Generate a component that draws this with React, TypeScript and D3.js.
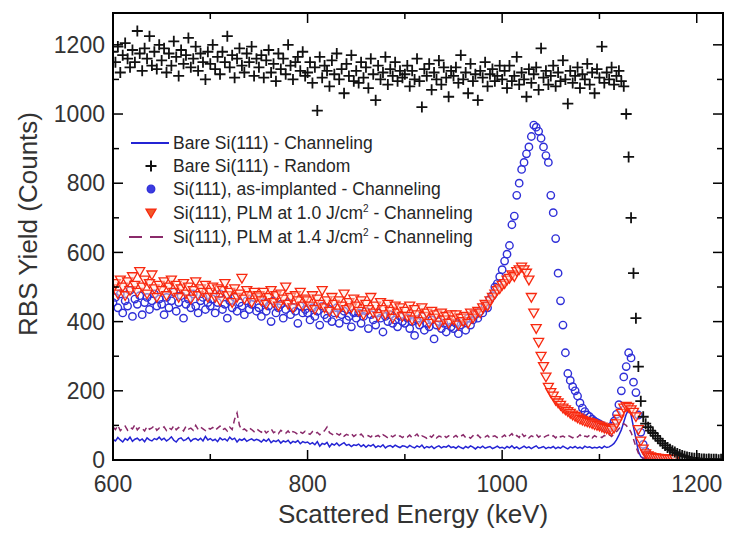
import React from "react";
import * as d3 from "d3";

// Channel calibration of the spectra (keV per channel)
const channelStartKeV = 600;
const keVPerChannel = 2.5;

// Bare Si(111) - Random (black crosses)
const bareRandom = [
  1180, 1150, 1195, 1120, 1170, 1205, 1160, 1135, 1185, 1150, 1240, 1175, 1125, 1190, 1160, 1225, 1140, 1180, 1130, 1200,
  1155, 1190, 1120, 1175, 1140, 1210, 1165, 1110, 1185, 1145, 1170, 1220, 1135, 1160, 1195, 1125, 1175, 1150, 1100, 1180,
  1145, 1200, 1130, 1165, 1115, 1180, 1150, 1225, 1135, 1170, 1105, 1160, 1190, 1140, 1120, 1175, 1150, 1195, 1110, 1160,
  1135, 1170, 1105, 1155, 1185, 1120, 1145, 1095, 1175, 1130, 1160, 1115, 1200, 1140, 1100, 1150, 1165, 1125, 1180, 1110,
  1120, 1150, 1090, 1135, 1010, 1165, 1105, 1140, 1125, 1080, 1155, 1115, 1175, 1100, 1130, 1060, 1145, 1110, 1170, 1095,
  1125, 1090, 1150, 1105, 1135, 1075, 1160, 1115, 1040, 1140, 1100, 1120, 1165, 1085, 1130, 1110, 1150, 1095, 1125, 1105,
  1115, 1140, 1080, 1125, 1100, 1160, 1095, 1020, 1130, 1110, 1145, 1070, 1120, 1100, 1155, 1085, 1135, 1105, 1050, 1125,
  1110, 1135, 1090, 1170, 1100, 1120, 1060, 1145, 1095, 1115, 1040, 1125, 1105, 1150, 1080, 1115, 1130, 1095, 1110, 1140,
  1100, 1125, 1075, 1140, 1095, 1110, 1165, 1085, 1120, 1100, 1050, 1130, 1090, 1115, 1135, 1070, 1190, 1105, 1125, 1085,
  1110, 1140, 1080, 1120, 1095, 1155, 1100, 1030, 1125, 1090, 1110, 1135, 1075, 1115, 1100, 1145, 1085, 1120, 1060, 1130,
  1105, 1195, 1090, 1120, 1100, 1135, 1085, 1110, 1125, 1095, 1080, 1000, 876, 700, 540, 410, 270, 170, 125, 105,
  95, 85, 78, 70, 62, 55, 48, 42, 36, 31, 27, 23, 19, 16, 13, 11, 9, 7, 6, 5,
  4, 4, 3, 3, 2, 3, 2, 2, 2, 1, 2,
];

// Bare Si(111) - Channeling (blue solid line)
const bareChanneling = [
  60, 55, 65, 58, 52, 62, 57, 66, 54, 60, 63, 56, 61, 53, 64, 58, 55, 62, 59, 66,
  58, 63, 55, 60, 67, 57, 52, 61, 64, 56, 59, 65, 54, 60, 62, 57, 63, 55, 68, 58,
  62, 56, 60, 53, 64, 58, 61, 55, 66, 59, 63, 52, 60, 57, 62, 54, 58, 61, 56, 60,
  57, 52, 59, 54, 61, 50, 56, 53, 58, 49, 55, 52, 57, 48, 54, 51, 56, 47, 53, 50,
  52, 46, 50, 44, 53, 40, 48, 45, 51, 38, 47, 43, 49, 41, 46, 50, 42, 45, 39, 44,
  42, 46, 39, 44, 37, 43, 40, 45, 36, 41, 38, 44, 35, 40, 42, 37, 43, 39, 36, 41,
  40, 36, 42, 38, 35, 41, 37, 43, 34, 39, 36, 40, 33, 38, 41, 35, 39, 37, 42, 36,
  38, 34, 40, 36, 33, 39, 35, 41, 37, 32, 38, 35, 40, 34, 37, 39, 33, 36, 40, 35,
  37, 33, 39, 35, 41, 34, 38, 32, 36, 40, 35, 38, 33, 37, 41, 34, 36, 39, 33, 37,
  35, 39, 33, 37, 34, 40, 36, 32, 38, 35, 39, 34, 37, 33, 40, 36, 38, 34, 37, 35,
  38, 34, 40, 36, 38, 42, 48, 58, 72, 87, 110, 132, 146, 130, 95, 62, 25, 10, 5, 3,
  2, 2, 1, 1, 1,
];

// Si(111), as-implanted - Channeling (blue open circles)
const asImplanted = [
  455, 470, 440, 480, 425, 460, 445, 490, 415, 465, 450, 475, 420, 455, 470, 435, 460, 480, 445, 465,
  450, 420, 470, 440, 460, 485, 430, 455, 475, 410, 450, 465, 440, 480, 445, 425, 460, 470, 435, 455,
  445, 465, 425, 455, 480, 435, 450, 410, 460, 440, 470, 430, 455, 445, 420, 460, 435, 450, 470, 430,
  440, 415, 455, 430, 445, 400, 460, 425, 440, 450, 410, 435, 455, 420, 440, 430, 395, 445, 425, 435,
  425, 405, 440, 415, 430, 390, 445, 420, 410, 435, 400, 425, 440, 395, 420, 430, 405, 415, 385, 425,
  410, 425, 395, 415, 430, 380, 420, 405, 390, 425, 410, 370, 415, 400, 420, 395, 405, 385, 415, 400,
  395, 410, 380, 400, 360, 405, 390, 415, 375, 395, 385, 405, 350, 390, 400, 380, 395, 370, 400, 385,
  380, 395, 365, 390, 400, 375, 410, 390, 405, 420, 410, 430, 425, 445, 440, 465, 475, 500, 510, 530,
  550, 575, 595, 620, 680, 705, 765, 800, 840, 860, 885, 905, 935, 968, 962, 950, 930, 905, 880, 860,
  765, 715, 640, 540, 460, 390, 310, 250, 230, 212, 200, 185, 165, 150, 140, 130, 125, 118, 112, 108,
  104, 100, 96, 92, 92, 98, 112, 132, 160, 200, 240, 270, 310, 295, 225, 195, 130, 80, 45, 25,
  15, 10, 6, 4, 3, 2, 2, 1, 1, 1,
];

// Si(111), PLM at 1.0 J/cm2 - Channeling (red open down-triangles)
const plm10 = [
  495, 510, 480, 520, 500, 475, 515, 490, 530, 505, 485, 545, 500, 520, 480, 510, 535, 495, 470, 505,
  490, 515, 475, 500, 520, 485, 505, 470, 495, 510, 480, 500, 465, 490, 515, 475, 495, 485, 505, 470,
  485, 500, 470, 495, 460, 490, 510, 475, 485, 455, 495, 470, 480, 525, 465, 490, 475, 455, 485, 470,
  475, 460, 485, 450, 470, 490, 455, 475, 445, 480, 465, 500, 450, 470, 440, 475, 460, 485, 445, 465,
  460, 445, 475, 435, 465, 450, 490, 440, 460, 430, 470, 450, 425, 460, 445, 480, 435, 455, 440, 465,
  445, 430, 460, 420, 450, 435, 470, 425, 445, 415, 455, 435, 420, 450, 430, 410, 445, 425, 440, 415,
  430, 415, 445, 405, 435, 420, 400, 440, 415, 425, 395, 430, 410, 420, 390, 425, 405, 415, 395, 420,
  405, 420, 390, 410, 400, 415, 395, 425, 410, 420, 430, 425, 440, 450, 445, 460, 470, 480, 490, 495,
  505, 510, 520, 525, 535, 530, 545, 550, 558, 550, 540, 520, 470, 425, 380, 340, 300, 270, 240, 210,
  195, 185, 172, 165, 158, 150, 145, 140, 135, 130, 126, 122, 118, 115, 112, 110, 108, 105, 102, 100,
  98, 95, 92, 90, 88, 86, 92, 105, 118, 135, 150, 155, 152, 145, 138, 125, 88, 55, 32, 18,
  12, 9, 7, 6, 5, 4, 4, 3, 3, 2, 2, 2,
];

// Si(111), PLM at 1.4 J/cm2 - Channeling (purple dashed line)
const plm14 = [
  95, 88, 100, 85, 92, 98, 86, 94, 90, 102, 87, 95, 91, 84, 97, 89, 93, 99, 86, 92,
  90, 96, 85, 93, 88, 99, 87, 94, 91, 84, 97, 89, 92, 86, 100, 88, 95, 90, 85, 93,
  89, 94, 86, 92, 98, 87, 91, 84, 95, 88, 118, 136, 100, 86, 90, 84, 93, 88, 82, 90,
  85, 80, 88, 78, 84, 90, 79, 83, 76, 86, 80, 77, 84, 75, 82, 79, 74, 81, 77, 83,
  78, 74, 82, 76, 80, 73, 77, 85, 95, 79, 75, 70, 76, 72, 78, 69, 74, 71, 76, 68,
  73, 69, 75, 67, 72, 70, 66, 74, 68, 71, 65, 73, 69, 64, 71, 67, 72, 66, 70, 65,
  70, 66, 72, 64, 69, 75, 65, 70, 67, 63, 71, 66, 74, 64, 69, 67, 72, 65, 70, 68,
  66, 71, 64, 69, 73, 65, 68, 63, 70, 66, 72, 64, 69, 67, 71, 63, 68, 70, 65, 69,
  67, 72, 64, 70, 76, 66, 71, 65, 78, 68, 73, 64, 70, 67, 74, 66, 71, 65, 69, 72,
  66, 70, 64, 72, 67, 69, 65, 71, 68, 64, 70, 66, 73, 65, 69, 67, 72, 64, 70, 66,
  69, 65, 71, 67, 73, 68, 76, 82, 90, 98, 105, 100, 92, 80, 60, 38, 20, 10, 5, 3,
  2, 1, 1, 1, 0,
];

const xMajorTicks = [600, 800, 1000, 1200];
const xMinorTicks = [700, 900, 1100];
const yMajorTicks = [0, 200, 400, 600, 800, 1000, 1200];
const yMinorTicks = [100, 300, 500, 700, 900, 1100];

const legendLabels = [
  "Bare Si(111) - Channeling",
  "Bare Si(111) - Random",
  "Si(111), as-implanted - Channeling",
  "Si(111), PLM at 1.0 J/cm",
  "Si(111), PLM at 1.4 J/cm",
];

const FONT = "'Liberation Sans', Arial, Helvetica, sans-serif";
const BLUE = "#2424d4";
const CIRCLE = "#2f2fd8";
const RED = "#f8280f";
const PURPLE = "#8a2a6a";

const W = 729;
const H = 536;
const L = 113, R = 723, T = 13, B = 460;

export default function App() {
  const x = d3.scaleLinear().domain([600, 1227]).range([L, R]);
  const y = d3.scaleLinear().domain([0, 1292]).range([B, T]);
  const toPts = (arr: number[]) => arr.map((v, i) => [channelStartKeV + i * keVPerChannel, v] as [number, number]);
  const line = d3.line<[number, number]>().x((d) => x(d[0])).y((d) => y(d[1]));

  const crossPath = "M-5.5,0H5.5M0,-5.5V5.5";
  const triPath = "M-5,-3.9L5,-3.9L0,4.8Z";

  const majorLen = 10, minorLen = 6;
  const legendY = [143, 166, 189, 213, 237];
  const legendTextX = 173;
  const legendMarkX = 151;

  return (
    <svg width={W} height={H} style={{ position: "absolute", left: 0, top: 0, background: "#fff" }} fontFamily={FONT}>
      <defs>
        <clipPath id="plot">
          <rect x={L} y={T} width={R - L} height={B - T} />
        </clipPath>
      </defs>
      <rect x={0} y={0} width={W} height={H} fill="#fff" />
      <g clipPath="url(#plot)">
        <path d={line(toPts(bareChanneling)) || ""} fill="none" stroke={BLUE} strokeWidth={1.5} />
        <path d={line(toPts(plm14)) || ""} fill="none" stroke={PURPLE} strokeWidth={1.5} strokeDasharray="6,4" />
        {toPts(asImplanted).map((d, i) => (
          <circle key={"c" + i} cx={x(d[0])} cy={y(d[1])} r={3.7} fill="none" stroke={CIRCLE} strokeWidth={1.4} />
        ))}
        {toPts(plm10).map((d, i) => (
          <path key={"t" + i} d={triPath} transform={`translate(${x(d[0])},${y(d[1])})`} fill="#ffe2d6" fillOpacity={0.45} stroke={RED} strokeWidth={1.3} />
        ))}
        {toPts(bareRandom).map((d, i) => (
          <path key={"x" + i} d={crossPath} transform={`translate(${x(d[0])},${y(d[1])})`} stroke="#111" strokeWidth={1.8} fill="none" />
        ))}
      </g>

      {/* frame */}
      <rect x={L} y={T} width={R - L} height={B - T} fill="none" stroke="#000" strokeWidth={2} />

      {/* x ticks */}
      {xMajorTicks.map((t) => (
        <g key={"xm" + t}>
          <line x1={x(t)} x2={x(t)} y1={B} y2={B - majorLen} stroke="#000" strokeWidth={1.5} />
          <line x1={x(t)} x2={x(t)} y1={T} y2={T + majorLen} stroke="#000" strokeWidth={1.5} />
          <text x={x(t)} y={492} textAnchor="middle" fontSize={23} fill="#333">{t}</text>
        </g>
      ))}
      {xMinorTicks.map((t) => (
        <g key={"xn" + t}>
          <line x1={x(t)} x2={x(t)} y1={B} y2={B - minorLen} stroke="#000" strokeWidth={1.5} />
          <line x1={x(t)} x2={x(t)} y1={T} y2={T + minorLen} stroke="#000" strokeWidth={1.5} />
        </g>
      ))}
      {/* y ticks */}
      {yMajorTicks.map((t) => (
        <g key={"ym" + t}>
          <line x1={L} x2={L + majorLen} y1={y(t)} y2={y(t)} stroke="#000" strokeWidth={1.5} />
          <line x1={R} x2={R - majorLen} y1={y(t)} y2={y(t)} stroke="#000" strokeWidth={1.5} />
          <text x={105} y={y(t)} dy="0.36em" textAnchor="end" fontSize={23} fill="#333">{t}</text>
        </g>
      ))}
      {yMinorTicks.map((t) => (
        <g key={"yn" + t}>
          <line x1={L} x2={L + minorLen} y1={y(t)} y2={y(t)} stroke="#000" strokeWidth={1.5} />
          <line x1={R} x2={R - minorLen} y1={y(t)} y2={y(t)} stroke="#000" strokeWidth={1.5} />
        </g>
      ))}

      {/* axis titles */}
      <text x={413} y={523} textAnchor="middle" fontSize={26} fill="#333">Scattered Energy (keV)</text>
      <text transform="translate(37,224) rotate(-90)" textAnchor="middle" fontSize={26} fill="#333">RBS Yield (Counts)</text>

      {/* legend */}
      <g fontSize={17.5} fill="#262626">
        <line x1={131} x2={169} y1={legendY[0]} y2={legendY[0]} stroke={BLUE} strokeWidth={1.8} />
        <text x={legendTextX} y={legendY[0]} dy="0.35em">{legendLabels[0]}</text>

        <path d={crossPath} transform={`translate(${legendMarkX},${legendY[1]})`} stroke="#111" strokeWidth={2} />
        <text x={legendTextX} y={legendY[1]} dy="0.35em">{legendLabels[1]}</text>

        <circle cx={legendMarkX} cy={legendY[2]} r={3.8} fill="#3b3be0" stroke={CIRCLE} strokeWidth={1.3} />
        <text x={legendTextX} y={legendY[2]} dy="0.35em">{legendLabels[2]}</text>

        <path d={triPath} transform={`translate(${legendMarkX},${legendY[3]})`} fill="#f05a2a" stroke={RED} strokeWidth={1.3} />
        <text x={legendTextX} y={legendY[3]} dy="0.35em">
          {legendLabels[3]}
          <tspan dy="-7" fontSize={10}>2</tspan>
          <tspan dy="7"> - Channeling</tspan>
        </text>

        <line x1={129} x2={167} y1={legendY[4]} y2={legendY[4]} stroke={PURPLE} strokeWidth={1.8} strokeDasharray="13,8" />
        <text x={legendTextX} y={legendY[4]} dy="0.35em">
          {legendLabels[4]}
          <tspan dy="-7" fontSize={10}>2</tspan>
          <tspan dy="7"> - Channeling</tspan>
        </text>
      </g>
    </svg>
  );
}
